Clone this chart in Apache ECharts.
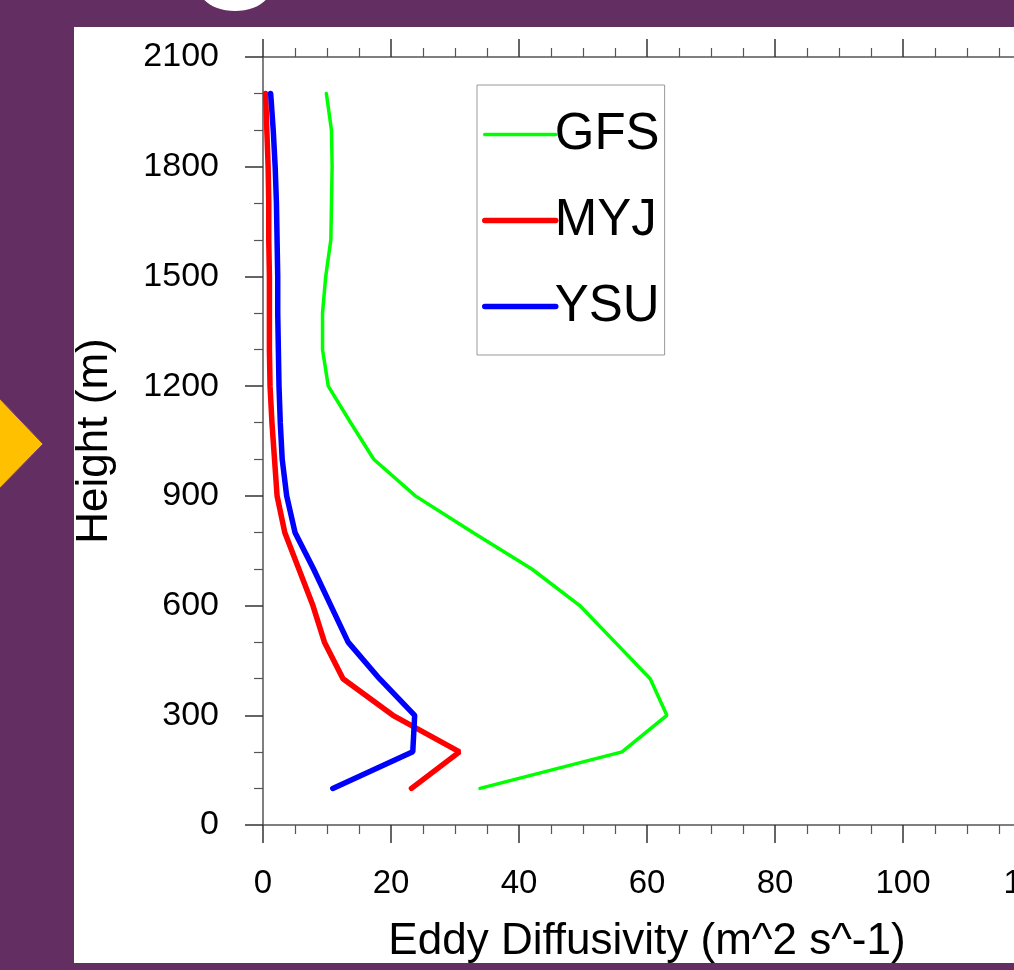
<!DOCTYPE html>
<html>
<head>
<meta charset="utf-8">
<script src="https://cdn.jsdelivr.net/npm/echarts@6/dist/echarts.min.js"></script>
<style>
  html, body { margin: 0; padding: 0; background: #632e62; }
  #chart { width: 1014px; height: 970px; }
</style>
</head>
<body>
<div id="chart"></div>
<script>
// heights (m) of the model levels
var heights = [100, 200, 300, 400, 500, 600, 700, 800, 900, 1000,
               1100, 1200, 1300, 1400, 1500, 1600, 1700, 1800, 1900, 2000];

// eddy diffusivity (m^2 s^-1) at each height
var gfs = [33.9, 56.1, 63.1, 60.5, 55.0, 49.5, 42.0, 32.8, 23.8, 17.3,
           13.7, 10.2, 9.3, 9.3, 9.8, 10.6, 10.7, 10.8, 10.7, 9.9];
var myj = [23.2, 30.7, 20.3, 12.5, 9.6, 7.8, 5.6, 3.4, 2.2, 1.8,
           1.4, 1.1, 1.0, 1.0, 1.0, 0.9, 0.9, 0.8, 0.6, 0.4];
var ysu = [10.9, 23.4, 23.7, 18.2, 13.3, 10.6, 7.9, 5.0, 3.7, 3.0,
           2.7, 2.5, 2.4, 2.3, 2.3, 2.2, 2.1, 1.9, 1.6, 1.2];

var xTicks = [0, 20, 40, 60, 80, 100, 120];
var yTicks = [0, 300, 600, 900, 1200, 1500, 1800, 2100];

var font = "Liberation Sans, Arial, Helvetica, sans-serif";

function pairs(vals) {
  return heights.map(function (h, i) { return [vals[i], h]; });
}

var mcharts = echarts.init(document.getElementById("chart"));

var axisCommon = {
  type: "value",
  axisLine: { show: true, lineStyle: { color: "#555", width: 1.5 } },
  axisTick: { show: true, length: 18, lineStyle: { color: "#333", width: 1.5 } },
  minorTick: { show: true, length: 9, lineStyle: { color: "#555", width: 1.2 } },
  splitLine: { show: false },
  minorSplitLine: { show: false }
};

var option = {
  backgroundColor: "#632e62",
  animation: false,
  textStyle: { fontFamily: font },
  graphic: [
    { type: "rect", z: -10, shape: { x: 74, y: 27, width: 940, height: 936 },
      style: { fill: "#ffffff" } },
    { type: "polygon", z: -10, shape: { points: [[-2, 397], [43, 444], [-2, 490]] },
      style: { fill: "#ffc000", stroke: "#7a3b78", lineWidth: 1 } },
    { type: "ellipse", z: -10, shape: { cx: 235, cy: -12, rx: 36, ry: 23 },
      style: { fill: "#ffffff" } }
  ],
  legend: {
    orient: "vertical",
    left: 477,
    top: 85,
    width: 188,
    padding: [24, 5, 23, 5],
    itemGap: 35,
    itemWidth: 71,
    itemHeight: 4,
    borderColor: "#999",
    borderWidth: 1,
    backgroundColor: "#fff",
    itemStyle: { opacity: 0 },
    lineStyle: { width: "inherit" },
    textStyle: { fontSize: 51, color: "#000", fontFamily: font, padding: [0, 0, 0, -6] },
    data: ["GFS", "MYJ", "YSU"]
  },
  grid: { left: 263, top: 57, width: 768, height: 768, outerBoundsMode: "none", containLabel: false },
  xAxis: [
    Object.assign({}, axisCommon, {
      position: "bottom",
      min: xTicks[0],
      max: xTicks[xTicks.length - 1],
      interval: 20,
      minorTick: Object.assign({}, axisCommon.minorTick, { splitNumber: 4 }),
      axisLabel: { fontSize: 33, color: "#000", margin: 42, fontFamily: font,
                   showMaxLabel: true, formatter: function (v) { return String(v); } },
      name: "Eddy Diffusivity (m^2 s^-1)",
      nameLocation: "middle",
      nameGap: 95,
      nameTextStyle: { fontSize: 44, color: "#000", fontFamily: font }
    }),
    Object.assign({}, axisCommon, {
      position: "top",
      min: xTicks[0],
      max: xTicks[xTicks.length - 1],
      interval: 20,
      minorTick: Object.assign({}, axisCommon.minorTick, { splitNumber: 4 }),
      axisLabel: { show: false }
    })
  ],
  yAxis: Object.assign({}, axisCommon, {
    min: yTicks[0],
    max: yTicks[yTicks.length - 1],
    interval: 300,
    minorTick: Object.assign({}, axisCommon.minorTick, { splitNumber: 3 }),
    axisLabel: { fontSize: 34, color: "#000", margin: 44, fontFamily: font,
                 formatter: function (v) { return String(v); } },
    name: "Height (m)",
    nameLocation: "middle",
    nameGap: 146,
    nameTextStyle: { fontSize: 44, color: "#000", fontFamily: font }
  }),
  series: [
    { name: "GFS", type: "line", symbol: "none", data: pairs(gfs),
      itemStyle: { color: "#00ff00" },
      lineStyle: { color: "#00ff00", width: 3.5, cap: "round" } },
    { name: "MYJ", type: "line", symbol: "none", data: pairs(myj),
      itemStyle: { color: "#ff0000" },
      lineStyle: { color: "#ff0000", width: 5.5, cap: "round" } },
    { name: "YSU", type: "line", symbol: "none", data: pairs(ysu),
      itemStyle: { color: "#0000ff" },
      lineStyle: { color: "#0000ff", width: 5.5, cap: "round" } }
  ]
};

mcharts.setOption(option);
</script>
</body>
</html>
